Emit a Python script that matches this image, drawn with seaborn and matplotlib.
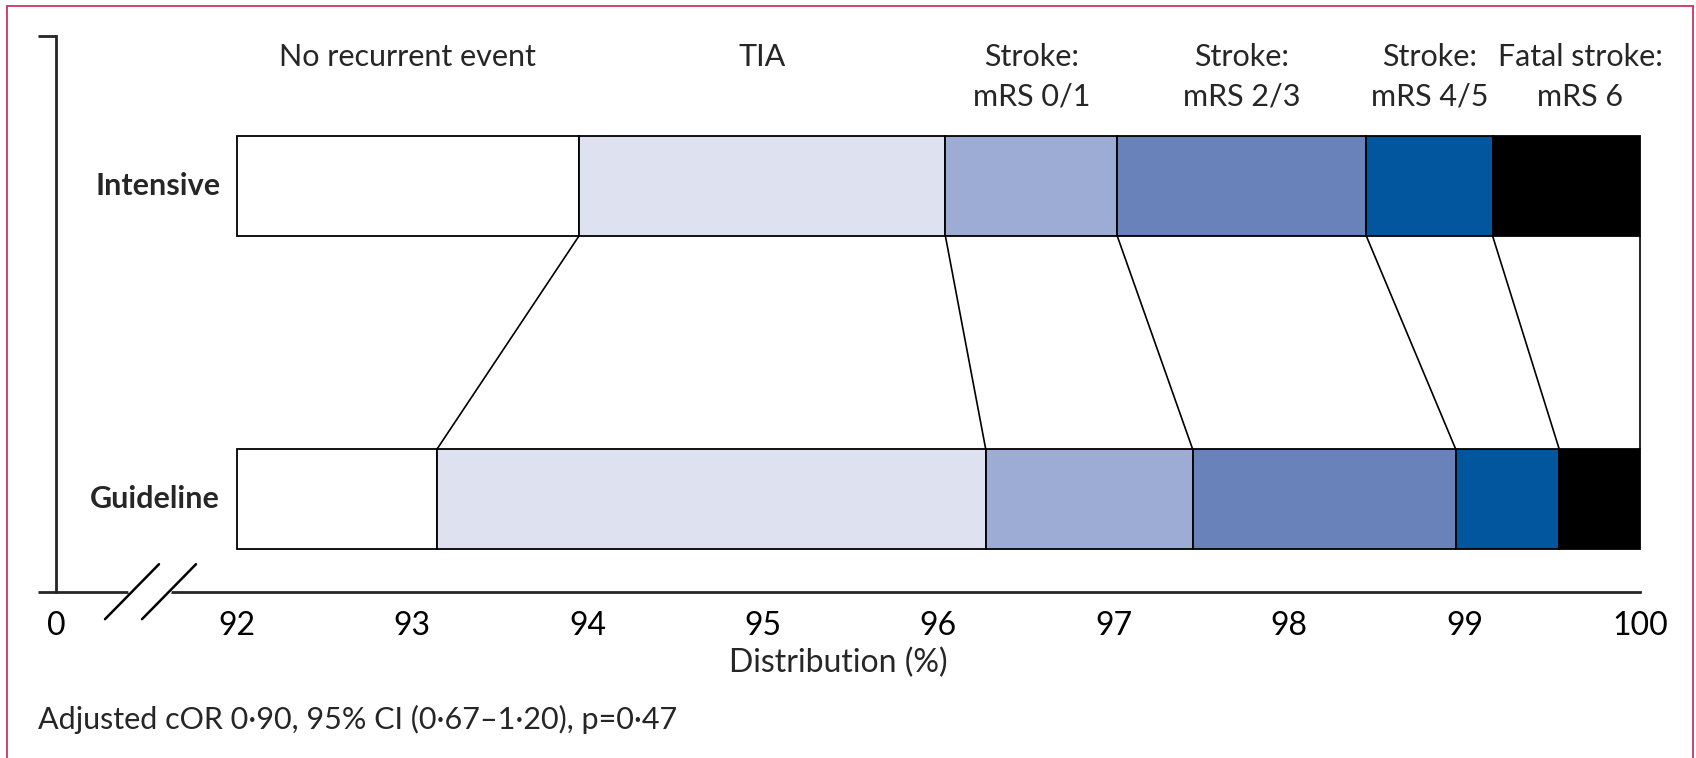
import numpy as np
import pandas as pd
import matplotlib
matplotlib.use("Agg")
import matplotlib.pyplot as plt
from matplotlib.lines import Line2D
import seaborn as sns

# ---- data -------------------------------------------------------------
groups = ["Intensive", "Guideline"]
categories = ["No recurrent event", "TIA", "Stroke:\nmRS 0/1", "Stroke:\nmRS 2/3",
              "Stroke:\nmRS 4/5", "Fatal stroke:\nmRS 6"]
intensive_pct = [93.95, 2.09, 0.98, 1.42, 0.72, 0.84]
guideline_pct = [93.14, 3.13, 1.18, 1.50, 0.59, 0.46]
colors = ["#ffffff", "#dee1ef", "#9dacd5", "#6a82ba", "#02569e", "#000000"]
xticks = [0, 92, 93, 94, 95, 96, 97, 98, 99, 100]
footnote = "Adjusted cOR 0\u00b790, 95% CI (0\u00b767\u20131\u00b720), p=0\u00b747"

# ---- style ------------------------------------------------------------
sns.set_style("white")
plt.rcParams["font.family"] = ["Lato", "DejaVu Sans"]
plt.rcParams["axes.linewidth"] = 2.0
FS = 22
FS_TICK = 23

W, H, DPI = 1696, 758, 100
fig = plt.figure(figsize=(W / DPI, H / DPI), dpi=DPI)
ax = fig.add_axes([56 / W, 1 - 591.7 / H, (1640 - 56) / W, (591.7 - 36) / H])

BREAK = 92.0
GAP = 1.031  # width (in % units after the break) given to the 0-92 stretch


def fwd(x):
    x = np.asarray(x, dtype=float)
    return np.where(x >= BREAK, x, BREAK - GAP + x * GAP / BREAK)


def inv(y):
    y = np.asarray(y, dtype=float)
    return np.where(y >= BREAK, y, (y - (BREAK - GAP)) * BREAK / GAP)


cum_int = np.cumsum(intensive_pct)
cum_gui = np.cumsum(guideline_pct)
cum_int[-1] = cum_gui[-1] = 100.0
start_int = np.concatenate([[BREAK], cum_int[:-1]])
start_gui = np.concatenate([[BREAK], cum_gui[:-1]])

BAR_H = 0.319
for k, cat in enumerate(categories):
    w_int = cum_int[k] - start_int[k]
    w_gui = cum_gui[k] - start_gui[k]
    seg = pd.DataFrame({"group": groups, "width": [w_int, w_gui]})
    sns.barplot(data=seg, x="width", y="group", order=groups, orient="h",
                left=[start_int[k], start_gui[k]], color=colors[k], saturation=1,
                edgecolor="black", linewidth=1.3, width=BAR_H, ax=ax, zorder=2)
for p in ax.patches:
    p.set_clip_on(False)

# connector lines between matching boundaries of the two bars
for k in range(len(categories)):
    ax.plot([cum_int[k], cum_gui[k]], [BAR_H / 2, 1 - BAR_H / 2],
            color="black", lw=1.2, zorder=1, solid_capstyle="butt", clip_on=False)

ax.set_xscale("function", functions=(fwd, inv))
ax.set_xlim(0, 100)
y_lo, y_hi = 1.2947, -0.4796
ax.set_ylim(y_lo, y_hi)

# axes dressing
for side in ("top", "right"):
    ax.spines[side].set_visible(False)
ax.set_xticks(xticks)
ax.set_xticklabels([str(t) for t in xticks])
ax.set_yticks([y_hi, y_lo])
ax.set_yticklabels(["", ""])
ax.set_ylabel("")
ax.tick_params(axis="x", direction="out", length=9, width=2.0, pad=5,
               labelsize=FS_TICK, colors="black")
ax.tick_params(axis="y", direction="out", length=13, width=2.0, left=True)
ax.set_xlabel("Distribution (%)", fontsize=FS_TICK, labelpad=5)
ax.xaxis.label.set_x(0.4937)

# group labels left of the bars
for i, g in enumerate(groups):
    ax.annotate(g, xy=(BREAK, i), xytext=(-12, 0), textcoords="offset points",
                ha="right", va="center", fontsize=FS, fontweight="bold")

# category headers centred over the intensive segments
header_nudge = [0, 0, 0, 0, 0, 10]  # points, keeps the last header clear of its neighbour
for k, cat in enumerate(categories):
    xm = (start_int[k] + cum_int[k]) / 2
    for j, line in enumerate(cat.split("\n")):
        ax.annotate(line, xy=(xm, -0.4126 + 0.1276 * j), xytext=(header_nudge[k], 0),
                    textcoords="offset points", ha="center", va="center",
                    fontsize=FS)

# axis break marks
axh = 591.7 - 36
axw = 1640 - 56
tr = ax.transAxes
ax.add_line(Line2D([(131 - 56) / axw, (169 - 56) / axw], [0, 0], transform=tr,
                   color="white", lw=4, zorder=5, clip_on=False))
for cx in (132, 169):
    ax.add_line(Line2D([(cx - 27 - 56) / axw, (cx + 27 - 56) / axw],
                       [-27.5 / axh, 27.5 / axh], transform=tr,
                       color="black", lw=1.8, zorder=6, clip_on=False))

fig.text(38 / W, 1 - 719 / H, footnote, ha="left", va="center", fontsize=FS)

# panel frame, open at the bottom
frame_kw = dict(transform=fig.transFigure, color="#c9365c", lw=1.3)
fig.add_artist(Line2D([7 / W, 7 / W], [0, 1 - 6 / H], **frame_kw))
fig.add_artist(Line2D([7 / W, 1693 / W], [1 - 6 / H, 1 - 6 / H], **frame_kw))
fig.add_artist(Line2D([1693 / W, 1693 / W], [0, 1 - 6 / H], **frame_kw))

fig.savefig("out.png", dpi=DPI, facecolor="white")
